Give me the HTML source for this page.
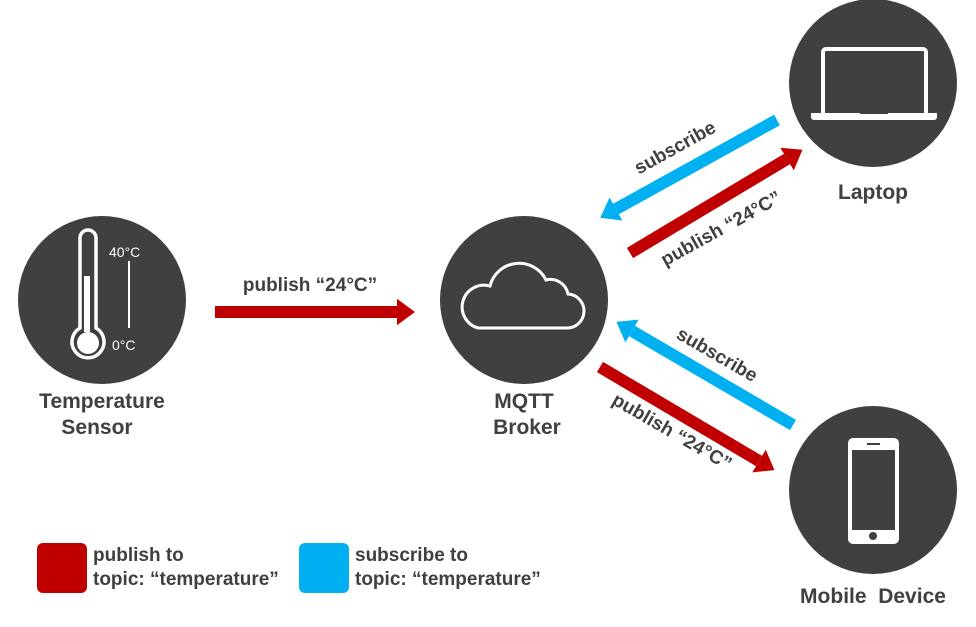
<!DOCTYPE html>
<html><head><meta charset="utf-8"><style>
body{margin:0;background:#fff;}
svg text{font-family:"Liberation Sans",Arial,sans-serif;font-weight:bold;fill:#404040;}
</style></head><body>
<svg width="976" height="622" viewBox="0 0 976 622" xmlns="http://www.w3.org/2000/svg">
<defs>
<marker id="r" markerWidth="1.5" markerHeight="2.2" refX="0" refY="1.1" orient="auto" markerUnits="strokeWidth"><path d="M0,0 L1.5,1.1 L0,2.2 Z" fill="#c00000"/></marker>
<marker id="b" markerWidth="1.5" markerHeight="2.2" refX="0" refY="1.1" orient="auto" markerUnits="strokeWidth"><path d="M0,0 L1.5,1.1 L0,2.2 Z" fill="#00b0f0"/></marker>
</defs>
<circle cx="102" cy="300" r="84" fill="#404040"/>
<circle cx="524" cy="300" r="84" fill="#404040"/>
<circle cx="873" cy="83" r="84" fill="#404040"/>
<circle cx="873" cy="490" r="84" fill="#404040"/>
<!-- thermometer -->
<path d="M80,238 a8,8 0 0 1 16,0 v90 a16,16 0 1 1 -16,0 z" fill="none" stroke="#fff" stroke-width="3.5"/>
<rect x="84" y="276" width="6" height="56" fill="#fff"/>
<circle cx="88" cy="343" r="11" fill="#fff"/>
<line x1="129" y1="261" x2="129" y2="328" stroke="#fff" stroke-width="2"/>
<text x="109" y="257" style="font-weight:normal;fill:#fff;font-size:14px">40°C</text>
<text x="112" y="350" style="font-weight:normal;fill:#fff;font-size:14px">0°C</text>
<!-- cloud -->
<path d="M478,328 h88 a17,17 0 0 0 2,-34 a18,18 0 0 0 -22,-14 a30,30 0 0 0 -56,6 a20,20 0 0 0 -12,42 z" fill="none" stroke="#fff" stroke-width="3"/>
<!-- laptop -->
<rect x="823" y="49" width="103" height="67" rx="3" fill="none" stroke="#fff" stroke-width="4"/>
<path d="M811,113 h126 v4 a3,3 0 0 1 -3,3 h-120 a3,3 0 0 1 -3,-3 z" fill="#fff"/>
<rect x="860" y="112" width="28" height="2" fill="#404040"/>
<!-- phone -->
<rect x="848" y="438" width="51" height="106" rx="5" fill="#fff"/>
<rect x="852" y="450" width="43" height="80" fill="#404040"/>
<circle cx="873" cy="536" r="4" fill="#404040"/>
<rect x="867" y="443" width="13" height="2" fill="#404040"/>
<!-- arrows -->
<line x1="215" y1="312" x2="397" y2="312" stroke="#c00000" stroke-width="12" marker-end="url(#r)"/>
<line x1="777" y1="120" x2="616" y2="209" stroke="#00b0f0" stroke-width="12" marker-end="url(#b)"/>
<line x1="630" y1="253" x2="787" y2="159" stroke="#c00000" stroke-width="12" marker-end="url(#r)"/>
<line x1="793" y1="425" x2="632" y2="331" stroke="#00b0f0" stroke-width="12" marker-end="url(#b)"/>
<line x1="600" y1="367" x2="759" y2="461" stroke="#c00000" stroke-width="12" marker-end="url(#r)"/>
<!-- labels -->
<text x="310" y="291" font-size="19" text-anchor="middle">publish “24°C”</text>
<text transform="translate(678,153) rotate(-29)" font-size="19" text-anchor="middle">subscribe</text>
<text transform="translate(724,234) rotate(-29)" font-size="19" text-anchor="middle">publish “24°C”</text>
<text transform="translate(714,360) rotate(30)" font-size="19" text-anchor="middle">subscribe</text>
<text transform="translate(669,437) rotate(30)" font-size="19" text-anchor="middle">publish “24°C”</text>
<text x="102" y="408" font-size="21" text-anchor="middle">Temperature</text>
<text x="97" y="434" font-size="21" text-anchor="middle">Sensor</text>
<text x="524" y="408" font-size="21" text-anchor="middle">MQTT</text>
<text x="527" y="434" font-size="21" text-anchor="middle">Broker</text>
<text x="873" y="199" font-size="21" text-anchor="middle">Laptop</text>
<text x="873" y="603" font-size="21" text-anchor="middle">Mobile&#160; Device</text>
<!-- legend -->
<rect x="37" y="543" width="50" height="50" rx="6" fill="#c00000"/>
<rect x="299" y="543" width="50" height="50" rx="6" fill="#00b0f0"/>
<text x="93" y="561" font-size="19">publish to</text>
<text x="93" y="585" font-size="19">topic: “temperature”</text>
<text x="355" y="561" font-size="19">subscribe to</text>
<text x="355" y="585" font-size="19">topic: “temperature”</text>
</svg>
</body></html>
